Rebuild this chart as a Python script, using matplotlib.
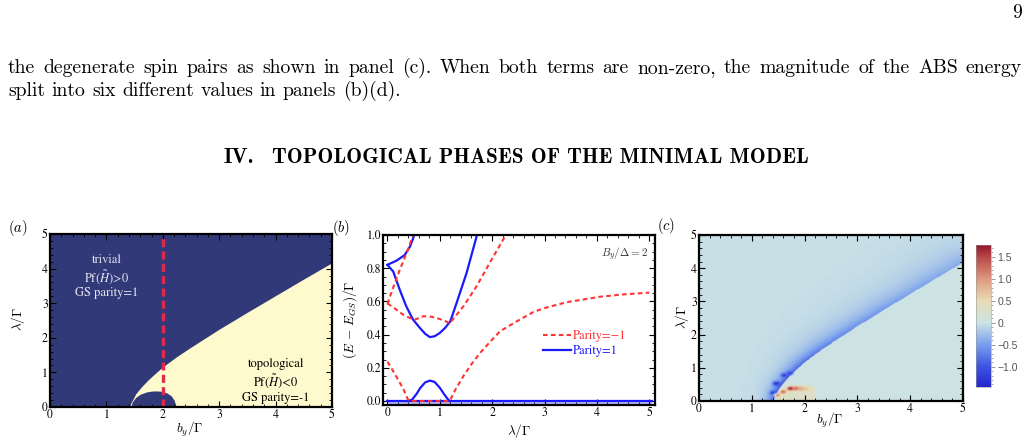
import numpy as np
import matplotlib
matplotlib.use("Agg")
import matplotlib.pyplot as plt
from matplotlib.colors import LinearSegmentedColormap
from matplotlib.ticker import MultipleLocator, FixedLocator, FixedFormatter
from matplotlib.path import Path

# ---------------- data ----------------
# panel (a): phase boundary (upper curve) and trivial dome
upper_b = [1.41, 1.43, 1.47, 1.52, 1.62, 1.75, 1.9, 2.0, 2.25, 2.5, 3.0, 3.5, 4.0, 4.5, 5.0]
upper_lam = [0.0, 0.1, 0.22, 0.38, 0.58, 0.8, 1.02, 1.16, 1.46, 1.73, 2.25, 2.74, 3.22, 3.70, 4.17]
dome_b = [1.43, 1.46, 1.52, 1.6, 1.7, 1.8, 1.9, 2.0, 2.08, 2.15, 2.2, 2.23, 2.235]
dome_lam = [0.0, 0.15, 0.28, 0.37, 0.43, 0.46, 0.465, 0.45, 0.4, 0.32, 0.2, 0.05, 0.0]
cut_b = 2.0

# panel (b): spectra vs lambda
gs_x = [0.0, 5.05]
gs_y = [0.0, 0.0]
blue_bump_x = [0.40, 0.47, 0.55, 0.63, 0.72, 0.81, 0.9, 1.0, 1.08, 1.15, 1.19]
blue_bump_y = [0.0, 0.008, 0.04, 0.08, 0.112, 0.123, 0.115, 0.08, 0.042, 0.012, 0.0]
blue_up_x = [0.0, 0.08, 0.17, 0.25, 0.33, 0.43, 0.49, 0.51]
blue_up_y = [0.82, 0.832, 0.845, 0.862, 0.88, 0.93, 0.98, 1.0]
blue_main_x = [0.0, 0.11, 0.235, 0.36, 0.49, 0.62, 0.72, 0.81, 0.9, 1.0, 1.1, 1.2, 1.32, 1.51, 1.71]
blue_main_y = [0.82, 0.78, 0.67, 0.57, 0.49, 0.44, 0.405, 0.385, 0.39, 0.41, 0.44, 0.48, 0.59, 0.77, 1.0]
red_low_x = [0.0, 0.1, 0.2, 0.3, 0.39, 0.45, 0.8, 1.19, 1.3, 1.45, 1.6, 1.77, 2.0, 2.15, 2.47, 2.78, 3.0, 3.42, 4.06, 4.5, 5.0]
red_low_y = [0.237, 0.185, 0.13, 0.075, 0.01, 0.0, 0.0, 0.0, 0.07, 0.15, 0.22, 0.29, 0.37, 0.42, 0.48, 0.535, 0.56, 0.595, 0.628, 0.642, 0.653]
red_up_x = [0.0, 0.1, 0.235, 0.3, 0.4, 0.49]
red_up_y = [0.585, 0.675, 0.79, 0.84, 0.92, 1.0]
red_mid_x = [0.0, 0.15, 0.3, 0.45, 0.52, 0.68, 0.8, 0.94, 1.08, 1.19, 1.45, 1.7, 1.95, 2.26]
red_mid_y = [0.588, 0.555, 0.52, 0.497, 0.49, 0.51, 0.51, 0.50, 0.485, 0.468, 0.57, 0.69, 0.83, 1.0]

# panel (c): features
c_bg_trivial = -0.03
c_bg_topo = 0.04
c_dome_value = 0.3
band_b = [1.3, 1.5, 2.0, 2.5, 3.0, 4.0, 5.0]
band_amp = [-1.0, -1.05, -0.88, -0.72, -0.62, -0.5, -0.42]
band_w = [0.1, 0.13, 0.2, 0.25, 0.28, 0.33, 0.4]
spot_b = [1.40, 1.46, 1.61, 1.72, 1.48, 1.59, 1.73, 1.84, 1.94, 2.04, 2.13]
spot_lam = [0.24, 0.52, 0.77, 0.83, 0.17, 0.27, 0.37, 0.37, 0.365, 0.36, 0.355]
spot_val = [-1.2, -1.3, -1.15, -1.05, 1.1, 1.3, 1.75, 1.3, 0.95, 0.7, 0.5]
spot_rad = [0.06, 0.065, 0.06, 0.06, 0.055, 0.06, 0.065, 0.065, 0.07, 0.07, 0.065]
cbar_ticks = [-1.0, -0.5, 0.0, 0.5, 1.0, 1.5]
cbar_labels = ["\u22121.0", "\u22120.5", "0.", "0.5", "1.0", "1.5"]
c_vmin, c_vmax = -1.46, 1.77

# ---------------- figure ----------------
W, H = 1029, 445
fig = plt.figure(figsize=(W / 100, H / 100), dpi=100)
fig.patch.set_facecolor("white")
renderer = fig.canvas.get_renderer()


def fx(x):
    return x / W


def fy(y):
    return 1 - y / H


BODY_FS = 14.2


def words_line(words, ybase, xleft, xright=None, fs=BODY_FS, family="cmr10", weight="normal"):
    texts = [fig.text(0, 0, w, fontsize=fs, family=family, weight=weight,
                      va="baseline", ha="left") for w in words]
    widths = [t.get_window_extent(renderer).width for t in texts]
    if xright is None:
        gap = 0.333 * fs * 100 / 72
    else:
        gap = (xright - xleft - sum(widths)) / (len(words) - 1)
    x = xleft
    for t, w in zip(texts, widths):
        t.set_position((fx(x), fy(ybase)))
        x += w + gap


line1 = "the degenerate spin pairs as shown in panel (c). When both terms are non-zero, the magnitude of the ABS energy"
line2 = "split into six different values in panels (b)(d)."
words_line(line1.split(), 73, 8, 1022)
words_line(line2.split(), 96, 8)
fig.text(fx(1022), fy(18), "9", fontsize=BODY_FS, family="cmr10", ha="right", va="baseline")
# heading
HEAD_FS = 15.3
head_a = fig.text(0, 0, "IV.", fontsize=HEAD_FS, family="cmb10", va="baseline", ha="left")
head_b = fig.text(0, 0, "TOPOLOGICAL PHASES OF THE MINIMAL MODEL", fontsize=HEAD_FS,
                  family="cmb10", va="baseline", ha="left")
wa = head_a.get_window_extent(renderer).width
wb = head_b.get_window_extent(renderer).width
gap_h = 18
x0h = 516 - (wa + gap_h + wb) / 2
head_a.set_position((fx(x0h), fy(163)))
head_b.set_position((fx(x0h + wa + gap_h), fy(163)))

TICK_FS = 8.5
LAB_FS = 9.5


def style(ax, xmaj, xmin, ymaj, ymin):
    ax.xaxis.set_major_locator(MultipleLocator(xmaj))
    ax.xaxis.set_minor_locator(MultipleLocator(xmin))
    ax.yaxis.set_major_locator(MultipleLocator(ymaj))
    ax.yaxis.set_minor_locator(MultipleLocator(ymin))
    ax.tick_params(which="both", direction="in", top=True, right=True, color="black",
                   labelsize=TICK_FS, labelfontfamily="STIXGeneral", pad=1.5)
    ax.tick_params(which="major", length=4.0, width=0.8)
    ax.tick_params(which="minor", length=2.0, width=0.6)
    for s in ax.spines.values():
        s.set_linewidth(1.6)


# ---------- panel (a) ----------
navy = "#323978"
yellow = "#fffacd"
ax_a = fig.add_axes([fx(50), fy(407), 282 / W, 173 / H])
ax_a.set_facecolor(navy)
ax_a.fill_between(upper_b + [5.2], 0, upper_lam + [4.35], color=yellow, lw=0)
ax_a.fill_between(dome_b, 0, dome_lam, color=navy, lw=0)
ax_a.axvline(cut_b, color="#e0294f", lw=2.4, dashes=(2.4, 1.3))
ax_a.set_xlim(0, 5)
ax_a.set_ylim(0, 5)
style(ax_a, 1, 0.2, 1, 0.2)
tc = "#e6e6f0"
ax_a.text(1.0, 4.25, "trivial", color=tc, fontsize=9, family="STIXGeneral", ha="center", va="center")
ax_a.text(1.0, 3.77, r"Pf($\tilde{H}$)>0", color=tc, fontsize=9, family="STIXGeneral",
          ha="center", va="center", math_fontfamily="stix")
ax_a.text(1.0, 3.3, "GS parity=1", color=tc, fontsize=9, family="STIXGeneral", ha="center", va="center")
ax_a.text(4.0, 1.25, "topological", color="black", fontsize=9, family="STIXGeneral", ha="center", va="center")
ax_a.text(4.0, 0.74, r"Pf($\tilde{H}$)<0", color="black", fontsize=9, family="STIXGeneral",
          ha="center", va="center", math_fontfamily="stix")
ax_a.text(4.0, 0.26, "GS parity=-1", color="black", fontsize=9, family="STIXGeneral", ha="center", va="center")
fig.text(fx(190), fy(429), r"$b_y/\Gamma$", fontsize=LAB_FS, ha="center", va="center", math_fontfamily="cm")
fig.text(fx(18), fy(319), r"$\lambda/\Gamma$", fontsize=LAB_FS, ha="center", va="center",
         rotation=90, math_fontfamily="cm")
fig.text(fx(18), fy(228), r"$(a)$", fontsize=10.5, ha="center", va="center", math_fontfamily="cm")

# ---------- panel (b) ----------
blue = "#1a1aff"
red = "#ff3333"
ax_b = fig.add_axes([fx(383), fy(405), 272 / W, 170 / H])
ax_b.fill_between(gs_x, -0.03, 0, color="#b9b9f5", lw=0)
ax_b.plot(gs_x, gs_y, color=blue, lw=1.6)
ax_b.plot(blue_bump_x, blue_bump_y, color=blue, lw=1.6)
ax_b.plot(blue_up_x, blue_up_y, color=blue, lw=1.6)
hb, = ax_b.plot(blue_main_x, blue_main_y, color=blue, lw=1.6)
hr, = ax_b.plot(red_low_x, red_low_y, color=red, lw=1.5, dashes=(2.2, 1.6))
ax_b.plot(red_up_x, red_up_y, color=red, lw=1.5, dashes=(2.2, 1.6))
ax_b.plot(red_mid_x, red_mid_y, color=red, lw=1.5, dashes=(2.2, 1.6))
ax_b.set_xlim(-0.085, 5.11)
ax_b.set_ylim(-0.024, 1.0)
style(ax_b, 1, 0.2, 0.2, 0.05)
ax_b.yaxis.set_major_formatter(matplotlib.ticker.FormatStrFormatter("%.1f"))
ax_b.text(0.974, 0.888, r"$B_y/\Delta = 2$", transform=ax_b.transAxes, ha="right", va="center",
          fontsize=8, color="#333333", math_fontfamily="cm")
leg = ax_b.legend(handles=[hr, hb], labels=["Parity=\u22121", "Parity=1"], loc="upper left",
                  bbox_to_anchor=(0.59, 0.44), frameon=False, borderpad=0, borderaxespad=0,
                  handlelength=2.2, handletextpad=0.12, labelspacing=0.25,
                  prop={"family": "STIXGeneral", "size": 9}, labelcolor="linecolor")
fig.text(fx(519), fy(431), r"$\lambda/\Gamma$", fontsize=LAB_FS, ha="center", va="center", math_fontfamily="cm")
fig.text(fx(350), fy(320), r"$(E\,-\,E_{GS})/\Gamma$", fontsize=LAB_FS, ha="center", va="center",
         rotation=90, math_fontfamily="cm")
fig.text(fx(341), fy(228), r"$(b)$", fontsize=10.5, ha="center", va="center", math_fontfamily="cm")

# ---------- panel (c) ----------
cmap = LinearSegmentedColormap.from_list("mm", [
    ((-1.46 - c_vmin) / (c_vmax - c_vmin), (0.15, 0.15, 0.80)),
    ((-1.0 - c_vmin) / (c_vmax - c_vmin), (0.24, 0.33, 0.88)),
    ((-0.5 - c_vmin) / (c_vmax - c_vmin), (0.47, 0.62, 0.93)),
    ((0.0 - c_vmin) / (c_vmax - c_vmin), (0.80, 0.89, 0.90)),
    ((0.5 - c_vmin) / (c_vmax - c_vmin), (0.91, 0.86, 0.71)),
    ((1.0 - c_vmin) / (c_vmax - c_vmin), (0.87, 0.60, 0.50)),
    ((1.5 - c_vmin) / (c_vmax - c_vmin), (0.72, 0.28, 0.28)),
    (1.0, (0.58, 0.08, 0.17)),
])
gb = np.linspace(0, 5, 300)
gl = np.linspace(0, 5, 300)
B, L = np.meshgrid(gb, gl)
lam_c = np.interp(B, upper_b, upper_lam)
above = (B < upper_b[0]) | (L > lam_c)
sb = np.linspace(upper_b[0], 5, 250)
sl = np.interp(sb, upper_b, upper_lam)
dist = np.full(B.shape, np.inf)
nearest_b = np.zeros(B.shape)
for bb, ll in zip(sb, sl):
    dd = np.hypot(B - bb, L - ll)
    closer = dd < dist
    nearest_b = np.where(closer, bb, nearest_b)
    dist = np.minimum(dist, dd)
amp = np.interp(nearest_b, band_b, band_amp)
wid = np.interp(nearest_b, band_b, band_w)
field = np.where(above, c_bg_trivial + (amp - c_bg_trivial) * np.exp(-dist / wid), c_bg_topo)
dome_path = Path(np.column_stack([dome_b, dome_lam]))
inside = dome_path.contains_points(np.column_stack([B.ravel(), L.ravel()])).reshape(B.shape)
field = np.where(inside & ~above, c_dome_value, field)
for sbv, slv, sv, sr in zip(spot_b, spot_lam, spot_val, spot_rad):
    g = np.exp(-((B - sbv) ** 2 + (L - slv) ** 2) / sr ** 2)
    field = field * (1 - g) + sv * g

ax_c = fig.add_axes([fx(699), fy(401), 264 / W, 166 / H])
im = ax_c.imshow(field, extent=[0, 5, 0, 5], origin="lower", aspect="auto", cmap=cmap,
                 vmin=c_vmin, vmax=c_vmax, interpolation="bilinear")
ax_c.set_xlim(0, 5)
ax_c.set_ylim(0, 5)
style(ax_c, 1, 0.2, 1, 0.2)
fig.text(fx(830), fy(420), r"$b_y/\Gamma$", fontsize=LAB_FS, ha="center", va="center", math_fontfamily="cm")
fig.text(fx(682), fy(317), r"$\lambda/\Gamma$", fontsize=LAB_FS, ha="center", va="center",
         rotation=90, math_fontfamily="cm")
fig.text(fx(666), fy(226), r"$(c)$", fontsize=10.5, ha="center", va="center", math_fontfamily="cm")

cax = fig.add_axes([fx(976), fy(387), 15 / W, 142 / H])
cb = fig.colorbar(im, cax=cax)
cb.outline.set_linewidth(0.4)
cb.outline.set_edgecolor("#999999")
cax.yaxis.set_major_locator(FixedLocator(cbar_ticks))
cax.yaxis.set_major_formatter(FixedFormatter(cbar_labels))
cax.yaxis.set_minor_locator(MultipleLocator(0.1))
cax.tick_params(which="both", direction="out", color="#888888", labelcolor="#555555",
                labelsize=7.5, labelfontfamily="Liberation Sans", pad=1.5)
cax.tick_params(which="major", length=3, width=0.6)
cax.tick_params(which="minor", length=1.5, width=0.5)

fig.savefig("out.png", dpi=100)
